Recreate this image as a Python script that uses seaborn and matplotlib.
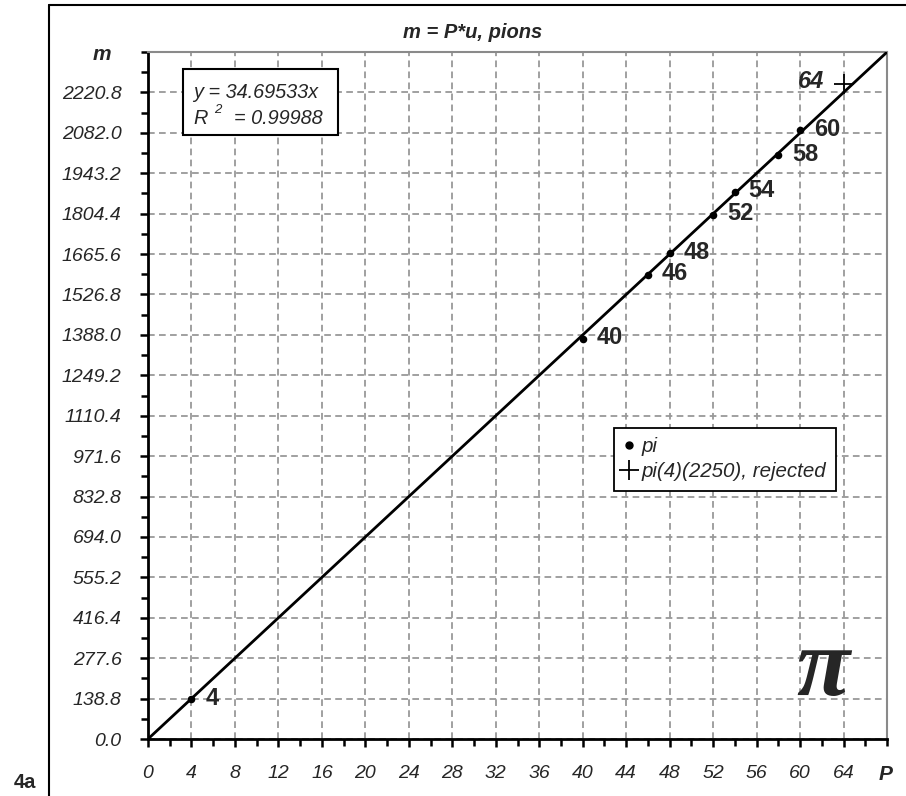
import numpy as np
import pandas as pd
import matplotlib
matplotlib.use("Agg")
import matplotlib.pyplot as plt
from matplotlib.ticker import FixedLocator, MultipleLocator
from matplotlib.lines import Line2D
import seaborn as sns

# pion states: quantum number P and mass m (MeV)
P = [4, 40, 46, 48, 52, 54, 58, 60]
m = [138.0, 1375.0, 1595.0, 1668.0, 1801.0, 1880.0, 2006.0, 2091.0]
P_rejected = [64]
m_rejected = [2250.0]

# least-squares line through the origin
slope = 34.69533
r2 = 0.99988

x_major = list(range(0, 65, 4))
y_step = 138.8
y_major = [round(i * y_step, 1) for i in range(17)]
x_max = 68
y_max = 17 * y_step

sns.set_style("white")
plt.rcParams["font.family"] = ["Liberation Sans", "DejaVu Sans"]

W, H = 906, 796
fig = plt.figure(figsize=(W / 100, H / 100), dpi=100)
L, R, T, B = 148, 887, 52, 739
ax = fig.add_axes([L / W, 1 - B / H, (R - L) / W, (B - T) / H])

pts = pd.DataFrame({"P": P, "m": m})
rej = pd.DataFrame({"P": P_rejected, "m": m_rejected})
fit = pd.DataFrame({"P": [0, x_max], "m": [0, slope * x_max]})

sns.lineplot(data=fit, x="P", y="m", ax=ax, color="black", lw=2.0, zorder=3)
sns.scatterplot(data=pts, x="P", y="m", ax=ax, color="black", s=30,
                edgecolor="black", linewidth=0, zorder=4)
sns.scatterplot(data=rej, x="P", y="m", ax=ax, color="black", marker="+",
                s=220, linewidth=1.3, zorder=4)

for p, v in zip(P, m):
    ax.annotate(str(p), (p, v), xytext=(10, 0.5), textcoords="offset points",
                ha="left", va="center", fontsize=17, fontweight="bold")
for p, v in zip(P_rejected, m_rejected):
    ax.annotate(str(p), (p, v), xytext=(-14, 1.5), textcoords="offset points",
                ha="right", va="center", fontsize=17, fontweight="bold",
                fontstyle="italic")

ax.set_xlim(0, x_max)
ax.set_ylim(0, y_max)
ax.xaxis.set_major_locator(FixedLocator(x_major))
ax.xaxis.set_minor_locator(MultipleLocator(2))
ax.yaxis.set_major_locator(FixedLocator(y_major))
ax.yaxis.set_minor_locator(MultipleLocator(y_step / 2))
ax.set_xticklabels([str(v) for v in x_major], fontstyle="italic", fontsize=14)
ax.set_yticklabels([f"{v:.1f}" for v in y_major], fontstyle="italic", fontsize=14)
ax.set_xlabel("")
ax.set_ylabel("")

ax.tick_params(axis="both", which="major", direction="out", length=6, width=1.8,
               color="black", bottom=True, left=True)
ax.tick_params(axis="both", which="minor", direction="out", length=5, width=1.8,
               color="black", bottom=True, left=True)
ax.tick_params(axis="x", which="major", pad=12.5)
ax.tick_params(axis="y", which="major", pad=13)

ax.grid(True, which="major", color="#999999", lw=1.3, ls=(0, (3.7, 2.4)))
ax.set_axisbelow(True)
for s in ["left", "bottom"]:
    ax.spines[s].set_color("black")
    ax.spines[s].set_linewidth(2.0)
for s in ["top", "right"]:
    ax.spines[s].set_color("#8a8a8a")
    ax.spines[s].set_linewidth(1.5)

# equation box (white fill hides the grid behind it)
fig.patches.append(plt.Rectangle((183 / W, 1 - 135 / H), 155 / W, 66 / H,
                                 transform=fig.transFigure, facecolor="white",
                                 edgecolor="black", lw=1.5, zorder=1))
fig.text(193 / W, 1 - 92 / H, f"y = {slope:.5f}x", fontsize=14.3,
         fontstyle="italic", ha="left", va="center", zorder=3)
fig.text(193 / W, 1 - 118 / H, "R", fontsize=14.3, fontstyle="italic",
         ha="left", va="center", zorder=3)
fig.text(214 / W, 1 - 110 / H, "2", fontsize=9.5, fontstyle="italic",
         ha="left", va="center", zorder=3)
fig.text(234 / W, 1 - 118 / H, f"= {r2:.5f}", fontsize=14.3, fontstyle="italic",
         ha="left", va="center", zorder=3)

# legend
handles = [
    Line2D([], [], ls="none", marker="o", color="black", markersize=5),
    Line2D([], [], ls="none", marker="+", color="black", markersize=14,
           markeredgewidth=1.3),
]
leg = ax.legend(handles, ["pi", "pi(4)(2250), rejected"], loc="upper left",
                bbox_to_anchor=(614 / W, 1 - 428 / H), bbox_transform=fig.transFigure,
                frameon=True, fancybox=False, edgecolor="black", framealpha=1,
                handlelength=0.6, handletextpad=0.3, borderpad=0.45,
                labelspacing=0.3, borderaxespad=0,
                prop={"style": "italic", "size": 14.8})
leg.get_frame().set_linewidth(1.3)

# titles and axis names
fig.text(473 / W, 1 - 33 / H, "m = P*u, pions", fontsize=14.5, fontweight="bold",
         fontstyle="italic", ha="center", va="center")
fig.text(102 / W, 1 - 55 / H, "m", fontsize=15, fontweight="bold",
         fontstyle="italic", ha="center", va="center")
fig.text(886 / W, 1 - 775 / H, "P", fontsize=15, fontweight="bold",
         fontstyle="italic", ha="center", va="center")
fig.text(25 / W, 1 - 783 / H, "4a", fontsize=14.5, fontweight="bold",
         ha="center", va="center")
fig.text(823 / W, 1 - 672 / H, "π", fontsize=70, fontweight="bold",
         fontstyle="italic", family=["Liberation Serif", "DejaVu Serif"],
         ha="center", va="center")

# outer frame
fig.add_artist(Line2D([49 / W, 49 / W], [0, 1 - 5 / H], transform=fig.transFigure,
                      color="black", lw=1.5))
fig.add_artist(Line2D([49 / W, 1], [1 - 5 / H, 1 - 5 / H], transform=fig.transFigure,
                      color="black", lw=1.5))

fig.savefig("out.png", dpi=100)
